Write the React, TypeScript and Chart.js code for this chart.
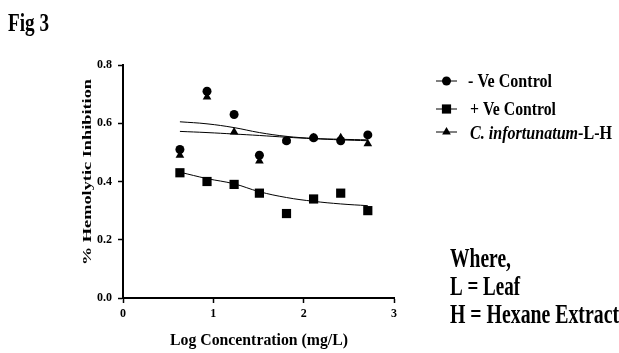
import React, { useEffect, useRef } from "react";
import { Chart, registerables } from "chart.js";

Chart.register(...registerables);

const xValues = [0.63, 0.93, 1.23, 1.51, 1.81, 2.11, 2.41, 2.71];
const negControl = [0.51, 0.71, 0.63, 0.49, 0.54, 0.55, 0.54, 0.56];
const posControl = [0.43, 0.4, 0.39, 0.36, 0.29, 0.34, 0.36, 0.3];
const cInfort = [0.49, 0.69, 0.57, 0.47, 0.54, 0.55, 0.55, 0.53];
const negFit = [0.605, 0.598, 0.585, 0.568, 0.555, 0.548, 0.545, 0.543];
const cFit = [0.572, 0.568, 0.563, 0.558, 0.552, 0.547, 0.543, 0.54];
const posFit = [0.432, 0.41, 0.392, 0.365, 0.345, 0.332, 0.323, 0.317];
const xTicks = [0, 1, 2, 3];
const yTicks = [0, 0.2, 0.4, 0.6, 0.8];
const legendLabels = ["- Ve Control", "+ Ve Control", "C. infortunatum"];
const legendSuffix = "-L-H";
const noteLines = ["Where,", "L = Leaf", "H = Hexane Extract"];
const figLabel = "Fig 3";
const xTitle = "Log Concentration (mg/L)";
const yTitle = "% Hemolytic Inhibition";

const SERIF = "'Liberation Serif', 'DejaVu Serif', serif";

const pts = (ys: number[]) => xValues.map((x, i) => ({ x, y: ys[i] }));

type Part = { text: string; font: string };

// draw text fitted to a target width (the reference is stretched vertically)
function fitText(ctx: CanvasRenderingContext2D, parts: Part[], x: number, y: number, targetW: number) {
  let total = 0;
  const widths = parts.map((p) => {
    ctx.font = p.font;
    const w = ctx.measureText(p.text).width;
    total += w;
    return w;
  });
  const s = targetW / total;
  ctx.save();
  ctx.translate(x, y);
  ctx.scale(s, 1);
  let cx = 0;
  parts.forEach((p, i) => {
    ctx.font = p.font;
    ctx.fillText(p.text, cx, 0);
    cx += widths[i];
  });
  ctx.restore();
}

function drawMarker(ctx: CanvasRenderingContext2D, style: string, x: number, y: number, r: number) {
  ctx.beginPath();
  if (style === "circle") {
    ctx.arc(x, y, r, 0, Math.PI * 2);
  } else if (style === "rect") {
    const s = Math.SQRT1_2 * r;
    ctx.rect(x - s, y - s, 2 * s, 2 * s);
  } else {
    ctx.moveTo(x, y - r);
    ctx.lineTo(x + r * 0.87, y + r * 0.5);
    ctx.lineTo(x - r * 0.87, y + r * 0.5);
    ctx.closePath();
  }
  ctx.fill();
}

const overlayPlugin = {
  id: "overlay",
  afterDraw(chart: any) {
    const ctx = chart.ctx as CanvasRenderingContext2D;
    ctx.save();
    ctx.fillStyle = "#000";
    ctx.strokeStyle = "#000";
    ctx.textAlign = "left";
    ctx.textBaseline = "alphabetic";
    // Fig label
    fitText(ctx, [{ text: figLabel, font: `bold 25px ${SERIF}` }], 8, 31, 41);
    // x axis title
    fitText(ctx, [{ text: xTitle, font: `bold 17px ${SERIF}` }], 170, 345, 178);
    // y axis title (rotated)
    ctx.save();
    ctx.font = `bold 13px ${SERIF}`;
    const yw = ctx.measureText(yTitle).width;
    ctx.translate(91, 172);
    ctx.rotate(-Math.PI / 2);
    ctx.scale(186 / yw, 1);
    ctx.fillText(yTitle, -yw / 2, 0);
    ctx.restore();
    // legend
    const rows = [81, 109, 132];
    const base = [87, 115, 139];
    const widths = [84, 86, 142];
    const mx = 446.5;
    const styles = ["circle", "rect", "triangle"];
    const radii = [4.5, 6.5, 5];
    rows.forEach((ry, i) => {
      ctx.lineWidth = 1;
      ctx.beginPath();
      ctx.moveTo(mx - 10.5, ry);
      ctx.lineTo(mx + 10.5, ry);
      ctx.stroke();
      drawMarker(ctx, styles[i], mx, ry, radii[i]);
    });
    const lf = `bold 18px ${SERIF}`;
    fitText(ctx, [{ text: legendLabels[0], font: lf }], 468, base[0], widths[0]);
    fitText(ctx, [{ text: legendLabels[1], font: lf }], 470, base[1], widths[1]);
    fitText(
      ctx,
      [
        { text: legendLabels[2], font: `italic bold 18px ${SERIF}` },
        { text: legendSuffix, font: lf },
      ],
      470,
      base[2],
      widths[2]
    );
    // notes
    const nf = `bold 28px ${SERIF}`;
    const ny = [267, 295, 323];
    const nw = [61, 70, 169];
    noteLines.forEach((t, i) => fitText(ctx, [{ text: t, font: nf }], 450, ny[i], nw[i]));
    ctx.restore();
  },
};

export default function App() {
  const ref = useRef<HTMLCanvasElement | null>(null);
  useEffect(() => {
    if (!ref.current) return;
    const fitStyle = {
      showLine: true,
      pointRadius: 0,
      borderColor: "#000",
      borderWidth: 1,
      backgroundColor: "#000",
      tension: 0.4,
    };
    const ptStyle = (style: string, r: number) => ({
      showLine: false,
      pointStyle: style,
      pointRadius: r,
      backgroundColor: "#000",
      borderColor: "#000",
      borderWidth: 0,
    });
    const chart = new Chart(ref.current, {
      type: "scatter",
      data: {
        datasets: [
          { label: "fitNeg", data: pts(negFit), ...fitStyle },
          { label: "fitC", data: pts(cFit), ...fitStyle },
          { label: "fitPos", data: pts(posFit), ...fitStyle },
          { label: legendLabels[0], data: pts(negControl), ...ptStyle("circle", 4.5) },
          { label: legendLabels[1], data: pts(posControl), ...ptStyle("rect", 6.5) },
          { label: legendLabels[2], data: pts(cInfort), ...ptStyle("triangle", 5) },
        ] as any,
      },
      options: {
        responsive: false,
        animation: false,
        layout: { padding: { left: 60, right: 225, top: 65, bottom: 0 } },
        plugins: { legend: { display: false }, tooltip: { enabled: false } },
        scales: {
          x: {
            type: "linear",
            min: 0,
            max: 3,
            afterFit: (s: any) => {
              s.height = 55;
            },
            afterBuildTicks: (s: any) => {
              s.ticks = xTicks.map((v) => ({ value: v }));
            },
            ticks: {
              color: "#000",
              font: { family: SERIF, size: 12, weight: "bold" },
              padding: 4,
              callback: (v: any) => String(v),
            },
            grid: { display: true, drawOnChartArea: false, tickLength: 5, color: "#000", tickWidth: 1.5 },
            border: { display: true, color: "#000", width: 2 },
          },
          y: {
            type: "linear",
            min: 0,
            max: 0.8,
            afterFit: (s: any) => {
              s.width = 63;
            },
            afterBuildTicks: (s: any) => {
              s.ticks = yTicks.map((v) => ({ value: v }));
            },
            ticks: {
              color: "#000",
              font: { family: SERIF, size: 12, weight: "bold" },
              padding: 6,
              callback: (v: any) => Number(v).toFixed(1),
            },
            grid: { display: true, drawOnChartArea: false, tickLength: 5, color: "#000", tickWidth: 1.5 },
            border: { display: true, color: "#000", width: 2 },
          },
        },
      },
      plugins: [overlayPlugin],
    } as any);
    return () => chart.destroy();
  }, []);
  return (
    <div style={{ position: "fixed", left: 0, top: 0, width: 619, height: 353, background: "#fff" }}>
      <canvas ref={ref} width={619} height={353} />
    </div>
  );
}
